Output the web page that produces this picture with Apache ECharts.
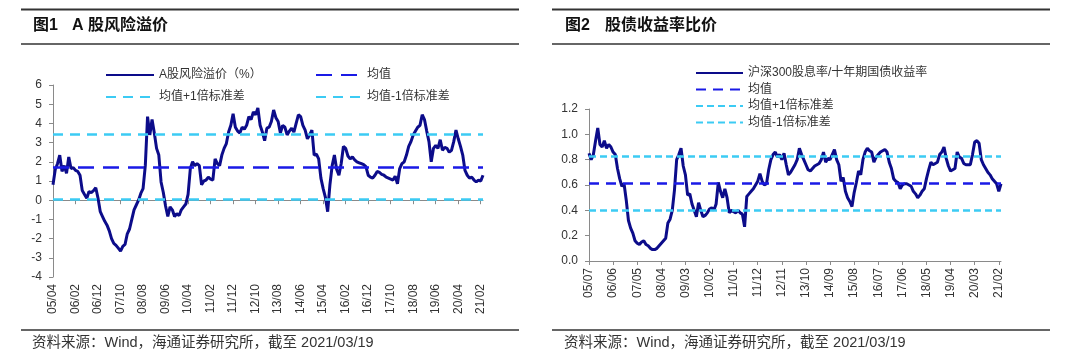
<!DOCTYPE html>
<html><head><meta charset="utf-8">
<script src="https://cdn.jsdelivr.net/npm/echarts@6/dist/echarts.min.js"></script>
<style>
html,body{margin:0;padding:0;background:#fff;width:1080px;height:360px;overflow:hidden}
#c1,#c2{position:absolute;top:0;width:540px;height:360px}
#c1{left:0}#c2{left:540px}
</style></head><body>
<div id="c1"></div><div id="c2"></div>
<script>
// ---------- Data ----------
// Chart 1: A-share risk premium (%), monthly from 2005/04 to 2021/03
const LEFT_START_YEAR = 2005, LEFT_START_MONTH = 4;
const LEFT_VALUES = [
0.8,1.6,1.9,2.35,1.5,1.8,1.4,2.25,1.65,1.7,1.55,1.5,1.3,0.5,0.3,0.1,0.45,0.4,0.5,0.65,
0.1,-0.6,-0.85,-1.1,-1.3,-1.6,-2.0,-2.25,-2.35,-2.5,-2.65,-2.4,-2.3,-1.75,-1.5,-1.0,-0.5,-0.25,0.0,0.35,
0.6,1.8,4.35,3.4,4.2,3.5,2.7,2.35,0.95,0.4,-0.3,-0.85,-0.35,-0.5,-0.85,-0.7,-0.8,-0.5,-0.35,-0.2,
0.3,1.65,2.0,1.8,1.9,1.8,0.8,1.0,1.05,1.2,1.1,1.05,2.15,1.9,1.8,2.35,2.7,2.95,3.55,3.9,
4.5,3.8,3.6,3.5,3.8,3.7,3.9,4.35,4.2,4.6,4.45,4.8,3.9,3.55,3.1,3.75,3.8,4.1,4.7,4.3,
4.1,3.5,3.9,3.8,3.4,3.6,3.75,3.55,4.0,4.45,4.35,3.9,3.65,3.2,3.4,3.65,2.35,2.4,2.15,1.15,
0.6,0.15,-0.6,0.8,1.8,2.35,1.6,1.3,1.9,2.8,2.7,2.3,2.15,2.25,2.1,2.0,1.95,1.9,1.85,1.75,
1.3,1.2,1.15,1.3,1.5,1.45,1.35,1.3,1.2,1.15,1.1,1.05,1.25,0.85,1.65,1.9,2.0,2.35,2.8,3.05,
3.4,3.6,3.8,3.9,4.45,4.2,3.6,3.05,2.0,2.7,2.85,2.7,3.15,2.6,2.75,2.7,2.5,2.6,3.05,3.65,
3.2,2.8,2.35,1.55,1.3,1.15,1.2,1.05,0.95,1.05,1.0,1.3
];
const LEFT_MEAN = 1.74, LEFT_UPPER = 3.44, LEFT_LOWER = 0.04;
const LEFT_Y_TICKS = {min: -4, max: 6, interval: 1};

// Chart 2: CSI300 dividend yield / 10Y gov bond yield, monthly from 2005/07 to 2021/03
const RIGHT_START_YEAR = 2005, RIGHT_START_MONTH = 7;
const RIGHT_VALUES = [
0.85,0.80,0.84,0.95,1.05,0.92,0.90,0.95,0.89,0.92,0.90,0.86,0.84,0.73,0.65,0.59,0.61,0.48,0.32,0.26,
0.22,0.16,0.14,0.13,0.15,0.16,0.13,0.12,0.10,0.09,0.09,0.10,0.12,0.14,0.16,0.18,0.30,0.33,0.40,0.56,
0.80,0.84,0.89,0.75,0.68,0.52,0.53,0.45,0.40,0.35,0.46,0.40,0.35,0.36,0.38,0.41,0.42,0.40,0.45,0.62,
0.55,0.50,0.57,0.50,0.38,0.40,0.39,0.38,0.40,0.38,0.37,0.27,0.51,0.53,0.55,0.57,0.60,0.63,0.69,0.63,
0.60,0.61,0.72,0.80,0.84,0.86,0.82,0.84,0.80,0.85,0.76,0.68,0.70,0.73,0.76,0.80,0.89,0.84,0.80,0.76,
0.72,0.71,0.73,0.75,0.76,0.77,0.80,0.86,0.78,0.81,0.80,0.84,0.88,0.80,0.76,0.63,0.66,0.55,0.50,0.47,
0.43,0.54,0.62,0.71,0.68,0.80,0.86,0.89,0.87,0.86,0.78,0.82,0.84,0.86,0.87,0.88,0.86,0.78,0.73,0.65,
0.63,0.62,0.57,0.60,0.61,0.61,0.60,0.59,0.55,0.53,0.50,0.52,0.55,0.57,0.65,0.72,0.78,0.76,0.77,0.78,
0.84,0.86,0.90,0.81,0.75,0.71,0.72,0.73,0.86,0.82,0.81,0.77,0.76,0.76,0.76,0.84,0.94,0.95,0.93,0.80,
0.76,0.73,0.70,0.68,0.65,0.63,0.61,0.55,0.61
];
const RIGHT_MEAN = 0.615, RIGHT_UPPER = 0.827, RIGHT_LOWER = 0.40;
const RIGHT_Y_TICKS = {min: 0, max: 1.2, interval: 0.2};

function monthLabels(y, m, n) {
  const out = [];
  for (let i = 0; i < n; i++) {
    const t = (m - 1) + i;
    const yy = y + Math.floor(t / 12), mm = t % 12 + 1;
    out.push(String(yy % 100).padStart(2, '0') + '/' + String(mm).padStart(2, '0'));
  }
  return out;
}
const LEFT_CATEGORIES = monthLabels(LEFT_START_YEAR, LEFT_START_MONTH, LEFT_VALUES.length);
const RIGHT_CATEGORIES = monthLabels(RIGHT_START_YEAR, RIGHT_START_MONTH, RIGHT_VALUES.length);

// ---------- Styling ----------
const FONT = '"Liberation Sans", Arial, "Noto Sans CJK SC", sans-serif';
const CJK = '"Liberation Sans", "Noto Sans CJK SC", sans-serif';
const NAVY = '#0c0c8a', BLUE = '#1a1ae6', CYAN = '#3ccbf4';
const AXIS = '#8a8a8a';

function frame(title1, title2, t2x, titleX, ruleL, ruleR) {
  return [
    {type:'line', shape:{x1:ruleL,y1:9.5,x2:ruleR,y2:9.5}, style:{stroke:'#333',lineWidth:2}, silent:true},
    {type:'line', shape:{x1:ruleL,y1:44,x2:ruleR,y2:44}, style:{stroke:'#333',lineWidth:1.5}, silent:true},
    {type:'text', left:titleX, top:18, style:{text:title1, font:'bold 16px '+CJK, fill:'#111'}, silent:true},
    {type:'text', left:t2x, top:18, style:{text:title2, font:'bold 16px '+CJK, fill:'#111'}, silent:true},
    {type:'line', shape:{x1:ruleL,y1:330,x2:ruleR,y2:330}, style:{stroke:'#333',lineWidth:1.5}, silent:true},
    {type:'text', left:titleX - 1, top:336, style:{text:'资料来源：Wind，海通证券研究所，截至 2021/03/19', font:'14.5px '+CJK, fill:'#333'}, silent:true}
  ];
}

function refSeries(name, value, color, dash, width) {
  return {
    name, type:'line', data:[], symbol:'none', silent:true,
    lineStyle:{color, type:dash, width},
    itemStyle:{color},
    markLine:{symbol:'none', silent:true, label:{show:false},
      lineStyle:{color, type:dash, width},
      data:[{yAxis:value}]}
  };
}

function axes(cats, ticks, labelInterval, fmt) {
  return {
    xAxis:[
      {type:'category', data:cats, boundaryGap:false, position:'bottom',
       axisLine:{show:false, onZero:false}, axisTick:{show:false}, splitLine:{show:false},
       axisLabel:{interval:labelInterval, rotate:90, fontSize:12, color:'#333', margin:7, fontFamily:FONT}},
      {type:'category', data:cats, boundaryGap:false, position:'bottom',
       axisLine:{show:true, onZero:true, lineStyle:{color:AXIS, width:1}},
       axisTick:{show:true, interval:labelInterval, length:4, lineStyle:{color:AXIS}},
       axisLabel:{show:false}, splitLine:{show:false}}
    ],
    yAxis:[{type:'value', min:ticks.min, max:ticks.max, interval:ticks.interval,
      axisLine:{show:true, onZero:false, lineStyle:{color:AXIS}},
      axisTick:{show:true, length:4, lineStyle:{color:AXIS}},
      splitLine:{show:false},
      axisLabel:{fontSize:12, color:'#333', margin:11, fontFamily:FONT, formatter:fmt}}]
  };
}

const legendText = {fontSize:12, color:'#333', fontFamily:CJK};
const legendHideSymbol = {opacity:0, borderWidth:0};

// ---------- Chart 1 ----------
const c1 = echarts.init(document.getElementById('c1'), null, {renderer:'canvas'});
const a1 = axes(LEFT_CATEGORIES, LEFT_Y_TICKS, 9, v => String(v));
c1.setOption({
  animation:false,
  grid:{left:53, top:85, width:430, height:192, containLabel:false},
  xAxis:a1.xAxis, yAxis:a1.yAxis,
  legend:[
    {orient:'vertical', left:100, top:64, itemWidth:48, itemHeight:12, itemGap:10, textStyle:legendText,
     itemStyle:legendHideSymbol, selectedMode:false, data:['A股风险溢价（%）','均值+1倍标准差']},
    {orient:'vertical', left:310, top:64, itemWidth:46, itemHeight:12, itemGap:10, textStyle:legendText,
     itemStyle:legendHideSymbol, selectedMode:false, data:['均值','均值-1倍标准差']}
  ],
  graphic:frame('图1', 'A 股风险溢价', 72, 33, 21, 519),
  series:[
    {name:'A股风险溢价（%）', type:'line', data:LEFT_VALUES, symbol:'none', xAxisIndex:0,
     lineStyle:{color:NAVY, width:3}, itemStyle:{color:NAVY}, z:2},
    Object.assign(refSeries('均值', LEFT_MEAN, BLUE, [16,9], 2.5), {z:3}),
    Object.assign(refSeries('均值+1倍标准差', LEFT_UPPER, CYAN, [10,7], 2.5), {z:3}),
    Object.assign(refSeries('均值-1倍标准差', LEFT_LOWER, CYAN, [10,7], 2.5), {z:3})
  ]
});

// ---------- Chart 2 ----------
const c2 = echarts.init(document.getElementById('c2'), null, {renderer:'canvas'});
const a2 = axes(RIGHT_CATEGORIES, RIGHT_Y_TICKS, 10, v => v.toFixed(1));
c2.setOption({
  animation:false,
  grid:{left:49, top:109, width:412, height:152, containLabel:false},
  xAxis:a2.xAxis, yAxis:a2.yAxis,
  legend:[
    {orient:'vertical', left:150, top:62, itemWidth:47, itemHeight:12, itemGap:4.5, textStyle:legendText,
     itemStyle:legendHideSymbol, selectedMode:false,
     data:['沪深300股息率/十年期国债收益率','均值','均值+1倍标准差','均值-1倍标准差']}
  ],
  graphic:frame('图2', '股债收益率比价', 65, 25, 12, 510),
  series:[
    {name:'沪深300股息率/十年期国债收益率', type:'line', data:RIGHT_VALUES, symbol:'none', xAxisIndex:0,
     lineStyle:{color:NAVY, width:3}, itemStyle:{color:NAVY}, z:2},
    Object.assign(refSeries('均值', RIGHT_MEAN, BLUE, [10,7], 2.5), {z:3}),
    Object.assign(refSeries('均值+1倍标准差', RIGHT_UPPER, CYAN, [7,4], 2.5), {z:3}),
    Object.assign(refSeries('均值-1倍标准差', RIGHT_LOWER, CYAN, [7,4], 2.5), {z:3})
  ]
});
</script>
</body></html>
